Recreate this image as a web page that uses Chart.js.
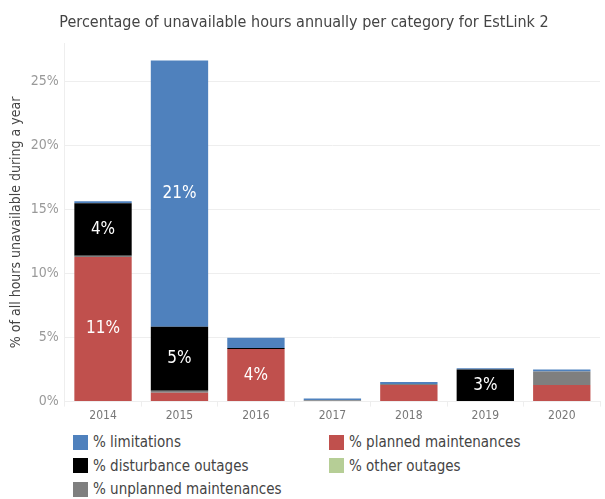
<!DOCTYPE html>
<html>
<head>
<meta charset="utf-8">
<script src="https://cdn.jsdelivr.net/npm/chart.js@4"></script>
<style>
  body { margin: 0; background: #fff; font-family: 'DejaVu Sans Condensed', sans-serif; }
  #wrap { position: relative; width: 605px; height: 425px; }
  #legend { position: absolute; left: 73px; top: 433px; width: 530px; font-size: 15px; color: #444; }
  .item { position: absolute; display: flex; align-items: center; white-space: nowrap; }
  .box { width: 15px; height: 15px; margin-right: 5px; }
</style>
</head>
<body>
<div id="wrap"><canvas id="chart"></canvas></div>
<div id="legend"></div>
<script>
const years = ['2014', '2015', '2016', '2017', '2018', '2019', '2020']
const planned = [11.3, 0.7, 4.1, 0, 1.3, 0, 1.3]
const unplanned = [0.1, 0.15, 0, 0.1, 0.08, 0, 1.05]
const disturbance = [4.1, 5.0, 0.08, 0, 0, 2.5, 0]
const other = [0, 0, 0, 0, 0, 0, 0]
const limitations = [0.15, 20.8, 0.8, 0.15, 0.15, 0.1, 0.15]
const yTicks = [0, 5, 10, 15, 20, 25]

const fontFamily = "'DejaVu Sans Condensed', sans-serif"

// stacking order bottom -> top
const series = [
  { label: '% planned maintenances', data: planned, color: '#C0504D' },
  { label: '% unplanned maintenances', data: unplanned, color: '#7F7F7F' },
  { label: '% disturbance outages', data: disturbance, color: '#000000' },
  { label: '% other outages', data: other, color: '#B6CE96' },
  { label: '% limitations', data: limitations, color: '#4F81BD' }
]

// value labels inside the larger segments
const segmentLabels = {
  id: 'segmentLabels',
  afterDatasetsDraw(chart) {
    const ctx = chart.ctx
    ctx.save()
    ctx.fillStyle = '#fff'
    ctx.font = '17px ' + fontFamily
    ctx.textAlign = 'center'
    ctx.textBaseline = 'middle'
    chart.data.datasets.forEach((ds, i) => {
      chart.getDatasetMeta(i).data.forEach((bar, j) => {
        const v = ds.data[j]
        if (v >= 2.5) {
          ctx.fillText(Math.round(v) + '%', bar.x, (bar.y + bar.base) / 2)
        }
      })
    })
    ctx.restore()
  }
}

new Chart(document.getElementById('chart').getContext('2d'), {
  type: 'bar',
  data: {
    labels: years,
    datasets: series.map(s => ({
      label: s.label,
      data: s.data,
      backgroundColor: s.color,
      borderWidth: 0,
      categoryPercentage: 1,
      barPercentage: 0.75
    }))
  },
  options: {
    responsive: true,
    maintainAspectRatio: false,
    animation: false,
    layout: { padding: { left: 8, right: 5, top: 0, bottom: 0 } },
    plugins: {
      legend: { display: false },
      tooltip: { enabled: false },
      title: {
        display: true,
        text: 'Percentage of unavailable hours annually per category for EstLink 2',
        color: '#444',
        font: { family: fontFamily, size: 16, weight: 'normal' },
        padding: { top: 13, bottom: 11 }
      }
    },
    scales: {
      x: {
        stacked: true,
        grid: { offset: true, drawOnChartArea: false, color: '#eee', tickLength: 5 },
        border: { color: '#eee' },
        ticks: { color: '#777', font: { family: fontFamily, size: 12 }, padding: 2 }
      },
      y: {
        stacked: true,
        min: 0,
        max: 28,
        afterBuildTicks(axis) { axis.ticks = yTicks.map(v => ({ value: v })) },
        grid: { color: '#eee', drawTicks: false },
        border: { color: '#eee' },
        ticks: {
          color: '#999',
          padding: 6,
          font: { family: fontFamily, size: 14 },
          callback: v => v + '%'
        },
        title: {
          display: true,
          text: '% of all hours unavailable during a year',
          color: '#444',
          font: { family: fontFamily, size: 14 },
          padding: 0
        }
      }
    }
  },
  plugins: [segmentLabels]
})

// two-column legend like the original
const legendOrder = [
  ['% limitations', '#4F81BD'], ['% planned maintenances', '#C0504D'],
  ['% disturbance outages', '#000000'], ['% other outages', '#B6CE96'],
  ['% unplanned maintenances', '#7F7F7F']
]
const legend = document.getElementById('legend')
legendOrder.forEach(([text, color], i) => {
  const el = document.createElement('div')
  el.className = 'item'
  el.style.left = (i % 2 ? 256 : 0) + 'px'
  el.style.top = (Math.floor(i / 2) * 23.5) + 'px'
  el.innerHTML = '<span class="box" style="background:' + color + '"></span>' + text
  legend.appendChild(el)
})
</script>
</body>
</html>
